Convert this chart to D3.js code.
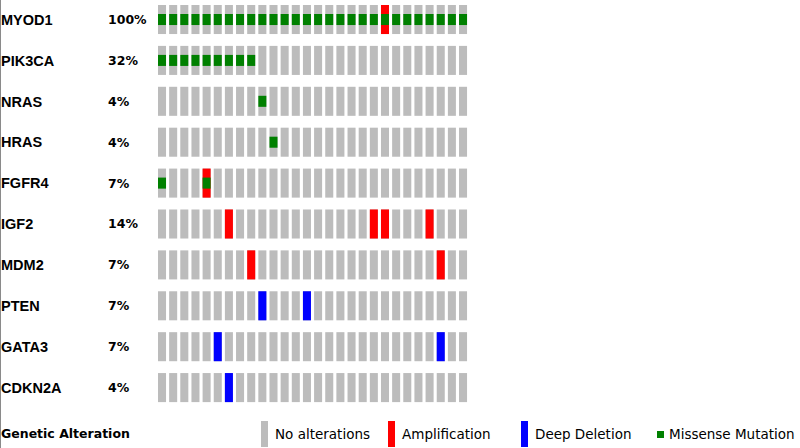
<!DOCTYPE html>
<html><head><meta charset="utf-8">
<script src="https://cdn.jsdelivr.net/npm/d3@7"></script>
<style>body{margin:0;background:#fff}svg{display:block}</style>
</head><body>
<svg id="c" width="800" height="448"></svg>
<script>
const genes = ["MYOD1","PIK3CA","NRAS","HRAS","FGFR4","IGF2","MDM2","PTEN","GATA3","CDKN2A"];
const pctLabels = ["100%","32%","4%","4%","7%","14%","7%","7%","7%","4%"];
const samples = d3.range(1, 29); // 28 samples
// alterations: [gene, sample number]
const missense = [
  ...samples.map(s => ["MYOD1", s]),
  ["PIK3CA",1],["PIK3CA",2],["PIK3CA",3],["PIK3CA",4],["PIK3CA",5],["PIK3CA",6],["PIK3CA",7],["PIK3CA",8],["PIK3CA",9],
  ["NRAS",10],["HRAS",11],["FGFR4",1],["FGFR4",5]
];
const amplification = [
  ["MYOD1",21],["FGFR4",5],
  ["IGF2",7],["IGF2",20],["IGF2",21],["IGF2",25],
  ["MDM2",9],["MDM2",26]
];
const deepDeletion = [
  ["PTEN",10],["PTEN",14],["GATA3",6],["GATA3",26],["CDKN2A",7]
];
const legendItems = ["No alterations","Amplification","Deep Deletion","Missense Mutation"];

const svg = d3.select("#c");
const x = d3.scaleBand().domain(samples).range([158, 158 + 11.15*27 + 8]).paddingInner(0.28).paddingOuter(0);
const y = d3.scaleBand().domain(genes).range([5, 5 + 40.9*9 + 29]).paddingInner(0.29).paddingOuter(0);
const GREY = "#bcbcbc", RED = "#ff0000", BLUE = "#0000ff", GREEN = "#008000";

// left frame edge
svg.append("line").attr("x1", 0.5).attr("x2", 0.5).attr("y1", 0).attr("y2", 448)
  .attr("stroke", "#8a8a8a").attr("stroke-width", 1);

// gene labels
svg.append("g").selectAll("text").data(genes).join("text")
  .attr("x", 1).attr("y", d => y(d) + y.bandwidth()/2)
  .attr("dy", "0.36em")
  .attr("font-family", "Liberation Sans, Arial, sans-serif")
  .attr("font-weight", "bold").attr("font-size", 14.5).attr("fill", "#000")
  .text(d => d);
svg.append("g").selectAll("text").data(genes).join("text")
  .attr("x", 108).attr("y", d => y(d) + y.bandwidth()/2)
  .attr("dy", "0.36em")
  .attr("font-family", "DejaVu Sans, sans-serif")
  .attr("font-weight", "bold").attr("font-size", 12.5).attr("fill", "#000")
  .text((d, i) => pctLabels[i]);

// background grey cells
const cells = genes.flatMap(g => samples.map(s => [g, s]));
svg.append("g").selectAll("rect").data(cells).join("rect")
  .attr("x", d => x(d[1])).attr("y", d => y(d[0]))
  .attr("width", x.bandwidth()).attr("height", y.bandwidth())
  .attr("fill", GREY);
svg.append("g").selectAll("rect").data(amplification).join("rect")
  .attr("x", d => x(d[1])).attr("y", d => y(d[0]))
  .attr("width", x.bandwidth()).attr("height", y.bandwidth())
  .attr("fill", RED);
svg.append("g").selectAll("rect").data(deepDeletion).join("rect")
  .attr("x", d => x(d[1])).attr("y", d => y(d[0]))
  .attr("width", x.bandwidth()).attr("height", y.bandwidth())
  .attr("fill", BLUE);
const mh = y.bandwidth() * 0.38;
svg.append("g").selectAll("rect").data(missense).join("rect")
  .attr("x", d => x(d[1])).attr("y", d => y(d[0]) + (y.bandwidth() - mh)/2)
  .attr("width", x.bandwidth()).attr("height", mh)
  .attr("fill", GREEN);

// legend
svg.append("text").attr("x", 1).attr("y", 438)
  .attr("font-family", "DejaVu Sans, sans-serif").attr("font-weight", "bold")
  .attr("font-size", 12.5).text("Genetic Alteration");
const lx = [261, 388, 521, 657];
const lg = svg.append("g");
legendItems.forEach((t, i) => {
  if (i < 3) {
    lg.append("rect").attr("x", lx[i]).attr("y", 421).attr("width", 7).attr("height", 26)
      .attr("fill", [GREY, RED, BLUE][i]);
  } else {
    lg.append("rect").attr("x", lx[i]).attr("y", 431).attr("width", 7).attr("height", 7).attr("fill", GREEN);
  }
  lg.append("text").attr("x", lx[i] + (i < 3 ? 14 : 12)).attr("y", 439)
    .attr("font-family", "DejaVu Sans, sans-serif").attr("font-size", 13.5).text(t);
});
</script>
</body></html>
